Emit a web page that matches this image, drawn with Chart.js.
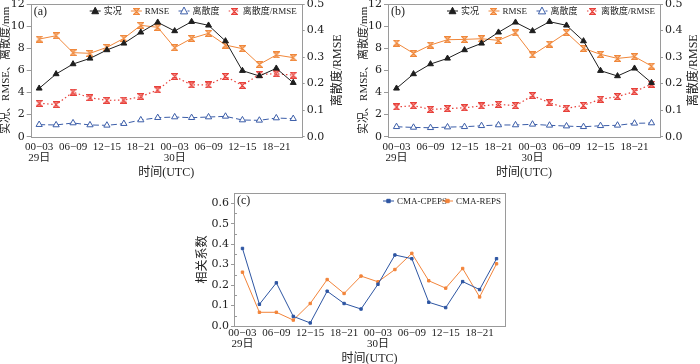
<!DOCTYPE html>
<html><head><meta charset="utf-8">
<script src="https://cdn.jsdelivr.net/npm/chart.js@4.4.1/dist/chart.umd.min.js"></script>
<style>
html,body{margin:0;padding:0;background:#fff;width:700px;height:364px;overflow:hidden;position:relative}
canvas{position:absolute;display:block}
</style></head><body>
<canvas id="ca" width="350" height="190" style="left:0;top:-10px;width:350px;height:190px"></canvas>
<canvas id="cb" width="350" height="190" style="left:350px;top:-10px;width:350px;height:190px"></canvas>
<canvas id="cc" width="340" height="184" style="left:180px;top:180px;width:340px;height:184px"></canvas>
<script>
// ---------- data ----------
const timeSlots = ['00−03','03−06','06−09','09−12','12−15','15−18','18−21','21−24',
                   '00−03','03−06','06−09','09−12','12−15','15−18','18−21','21−24'];
const dayLabels = ['29日','','','','','','','','30日','','','','','','',''];
const leftTicksMM = [0,2,4,6,8,10,12];
const rightTicksRatio = [0,0.1,0.2,0.3,0.4,0.5];
const corrTicks = [0,0.1,0.2,0.3,0.4,0.5,0.6];

const observed = [4.37,5.67,6.57,7.08,7.84,8.44,9.44,10.34,9.56,10.40,10.07,8.65,5.97,5.49,6.18,4.88];

const rmseA   = [8.83,9.13,7.60,7.54,8.08,8.89,10.07,9.89,8.05,8.89,9.35,8.29,7.96,6.54,7.39,7.15];
const spreadA = [1.09,1.06,1.24,1.06,1.03,1.18,1.51,1.72,1.78,1.72,1.78,1.84,1.51,1.48,1.69,1.63];
const ratioA  = [0.126,0.121,0.168,0.147,0.137,0.138,0.151,0.176,0.227,0.195,0.195,0.227,0.193,0.235,0.237,0.232];

const rmseB   = [8.47,7.54,8.29,8.77,8.80,8.86,8.71,9.38,7.39,8.38,9.41,7.99,7.45,7.08,7.24,6.39];
const spreadB = [0.90,0.84,0.81,0.87,0.90,0.99,1.06,1.06,1.12,1.03,0.96,0.90,0.99,1.03,1.21,1.24];
const ratioB  = [0.112,0.117,0.103,0.106,0.109,0.116,0.122,0.117,0.155,0.128,0.107,0.118,0.141,0.151,0.170,0.198];

const corrCPEPS = [0.379,0.106,0.211,0.047,0.015,0.170,0.110,0.083,0.204,0.347,0.329,0.116,0.090,0.217,0.178,0.329];
const corrREPS  = [0.263,0.067,0.067,0.029,0.110,0.227,0.159,0.244,0.216,0.276,0.355,0.221,0.185,0.281,0.142,0.304];

// ---------- styles ----------
const SERIF = '"Liberation Serif","Noto Sans CJK SC",serif';
const TICKY = '"DejaVu Serif","Noto Sans CJK SC",serif';
const C_BLACK='#1e1e1e', C_ORANGE='#f0873a', C_BLUE='#3b5da8', C_RED='#e8403a';
const C_CP='#2d55a2', C_RE='#f2843a';
const AXIS='#9a9a9a', TXT='#222';

function hourglass(stroke, fill){
  const c=document.createElement('canvas'); c.width=7; c.height=7;
  const g=c.getContext('2d');
  g.beginPath(); g.moveTo(0.6,0.6); g.lineTo(6.4,0.6); g.lineTo(0.6,6.4); g.lineTo(6.4,6.4); g.closePath();
  g.fillStyle=fill; g.fill();
  g.strokeStyle=stroke; g.lineWidth=1.2; g.stroke();
  return c;
}
const hgOrange = hourglass(C_ORANGE,'#f9c9a2');
const hgRed = hourglass(C_RED,'#f6b0aa');

function xTick(v,i){
  if(i%2!==0) return '';
  return dayLabels[i] ? [timeSlots[i], dayLabels[i]] : timeSlots[i];
}

// ---------- plugins ----------
const framePlugin = {
  id:'frame',
  beforeDatasetsDraw(chart){
    const {ctx, chartArea:a} = chart;
    ctx.save(); ctx.strokeStyle=AXIS; ctx.lineWidth=1;
    ctx.strokeRect(Math.round(a.left)+0.5, Math.round(a.top)+0.5, Math.round(a.right-a.left), Math.round(a.bottom-a.top));
    ctx.restore();
  }
};

function drawMarker(ctx, ds, x, y){
  const ps = ds.pointStyle;
  if (ps instanceof HTMLCanvasElement){ ctx.drawImage(ps, Math.round(x-ps.width/2), Math.round(y-ps.height/2)); return; }
  const r = ds.pointRadius;
  ctx.save();
  ctx.fillStyle = ds.pointBackgroundColor; ctx.strokeStyle = ds.pointBorderColor; ctx.lineWidth = ds.pointBorderWidth||1;
  ctx.beginPath();
  if (ps==='triangle'){
    ctx.moveTo(x, y-r*1.1); ctx.lineTo(x+r, y+r*0.8); ctx.lineTo(x-r, y+r*0.8); ctx.closePath();
  } else {
    ctx.rect(x-r, y-r, 2*r, 2*r);
  }
  ctx.fill(); ctx.stroke(); ctx.restore();
}

const annotPlugin = {
  id:'annot',
  afterDraw(chart, args, o){
    const {ctx, chartArea:a} = chart;
    ctx.save();
    ctx.fillStyle=TXT; ctx.font='12px '+SERIF; ctx.textBaseline='middle'; ctx.textAlign='left';
    ctx.fillText(o.tag, a.left+3, a.top+8);
    ctx.font='9px '+SERIF;
    const dss = chart.data.datasets;
    const lineW = 11, gapT = 3;
    const widths = dss.map(d=>ctx.measureText(d.label).width);
    const total = widths.reduce((s,w)=>s+w+lineW+gapT,0);
    const startX = a.left + o.legendStart, endX = a.right - o.legendEnd;
    const gap = dss.length>1 ? (endX-startX-total)/(dss.length-1) : 0;
    let x = startX; const y = a.top + o.legendY;
    dss.forEach((d,i)=>{
      ctx.save();
      ctx.strokeStyle=d.borderColor; ctx.lineWidth=d.borderWidth;
      ctx.setLineDash(d.borderDash||[]);
      ctx.beginPath(); ctx.moveTo(x,y); ctx.lineTo(x+lineW,y); ctx.stroke();
      ctx.restore();
      drawMarker(ctx, d, x+lineW/2, y);
      ctx.fillStyle=TXT; ctx.textAlign='left'; ctx.textBaseline='middle';
      ctx.fillText(d.label, x+lineW+gapT, y+0.5);
      x += lineW+gapT+widths[i]+gap;
    });
    if (o.rightTitle){
      ctx.font='12px '+SERIF; ctx.fillStyle=TXT;
      ctx.translate(o.rightTitleX, (a.top+a.bottom)/2);
      ctx.rotate(-Math.PI/2);
      ctx.textAlign='center'; ctx.textBaseline='middle';
      ctx.fillText(o.rightTitle, 0, 0);
    }
    ctx.restore();
  }
};

const minorPlugin = {
  id:'minor',
  afterDraw(chart, args, o){
    if(!o.on) return;
    const s = chart.scales.y, {ctx, chartArea:a} = chart;
    ctx.save(); ctx.strokeStyle=AXIS; ctx.lineWidth=1;
    for(let v=0.05; v<0.65; v+=0.1){
      const y=Math.round(s.getPixelForValue(v))+0.5;
      ctx.beginPath(); ctx.moveTo(a.left, y); ctx.lineTo(a.left+3, y); ctx.stroke();
    }
    ctx.restore();
  }
};

function xScale(h, tickPad, titlePadBottom){
  return {
    type:'category', offset:true,
    grid:{display:false, drawTicks:false}, border:{display:false},
    ticks:{autoSkip:false, maxRotation:0, minRotation:0, padding:tickPad, color:TXT,
           font:{family:SERIF, size:11, lineHeight:1.0}, callback:xTick},
    title:{display:true, text:'时间(UTC)', color:TXT, font:{family:SERIF, size:12, lineHeight:1.1}, padding:{top:0,bottom:titlePadBottom}},
    afterFit(s){ s.height=h; }
  };
}

function panelAB(id, rmse, spread, ratio, o){
  return new Chart(document.getElementById(id), {
    type:'line',
    data:{
      labels: timeSlots,
      datasets:[
        {label:'实况', data:observed, yAxisID:'y', borderColor:C_BLACK, borderWidth:1,
         pointStyle:'triangle', pointRadius:3.4, pointBackgroundColor:C_BLACK, pointBorderColor:C_BLACK, pointBorderWidth:1},
        {label:'RMSE', data:rmse, yAxisID:'y', borderColor:C_ORANGE, borderWidth:1,
         pointStyle:hgOrange, pointRadius:3.5, pointBackgroundColor:C_ORANGE, pointBorderColor:C_ORANGE},
        {label:'离散度', data:spread, yAxisID:'y', borderColor:C_BLUE, borderWidth:1, borderDash:[6,3],
         pointStyle:'triangle', pointRadius:3.6, pointBackgroundColor:'#fff', pointBorderColor:C_BLUE, pointBorderWidth:1},
        {label:'离散度/RMSE', data:ratio, yAxisID:'y1', borderColor:C_RED, borderWidth:1.2, borderDash:[1.5,2.5],
         pointStyle:hgRed, pointRadius:3.5, pointBackgroundColor:C_RED, pointBorderColor:C_RED}
      ]
    },
    options:{
      responsive:false, animation:false, devicePixelRatio:1,
      layout:{padding:{top:14,left:0,right:0,bottom:0}},
      plugins:{legend:{display:false}, tooltip:{enabled:false},
        annot:{tag:o.tag, legendStart:o.legendStart, legendEnd:5, legendY:7, rightTitle:'离散度/RMSE', rightTitleX:o.rightTitleX},
        minor:{on:false}},
      scales:{
        x: xScale(43.3, 5, 1),
        y:{position:'left', min:0, max:12,
           afterBuildTicks(s){ s.ticks = leftTicksMM.map(v=>({value:v})); },
           ticks:{color:TXT, padding:2, font:{family:TICKY, size:11}},
           grid:{display:true, drawOnChartArea:false, tickLength:4, color:AXIS}, border:{display:false},
           title:{display:true, text:'实况、RMSE、离散度/mm', color:TXT, font:{family:SERIF, size:11, lineHeight:1.1}, padding:{top:o.leftTitlePad,bottom:0}},
           afterFit(s){ s.width=o.leftW; }},
        y1:{position:'right', min:0, max:0.5,
           afterBuildTicks(s){ s.ticks = rightTicksRatio.map(v=>({value:v})); },
           ticks:{color:TXT, padding:2, font:{family:TICKY, size:11}, callback:v=>Number(v).toFixed(1)},
           grid:{display:true, drawOnChartArea:false, tickLength:3, color:AXIS}, border:{display:false},
           afterFit(s){ s.width=o.rightW; }}
      }
    },
    plugins:[framePlugin, annotPlugin, minorPlugin]
  });
}

panelAB('ca', rmseA, spreadA, ratioA, {tag:'(a)', leftW:30.7, rightW:48.3, leftTitlePad:0.5, legendStart:59, rightTitleX:338});
panelAB('cb', rmseB, spreadB, ratioB, {tag:'(b)', leftW:38, rightW:40, leftTitlePad:8, legendStart:59, rightTitleX:344});

new Chart(document.getElementById('cc'), {
  type:'line',
  data:{
    labels: timeSlots,
    datasets:[
      {label:'CMA-CPEPS', data:corrCPEPS, borderColor:C_CP, borderWidth:1,
       pointStyle:'rect', pointRadius:1.7, pointBackgroundColor:C_CP, pointBorderColor:C_CP, pointBorderWidth:1},
      {label:'CMA-REPS', data:corrREPS, borderColor:C_RE, borderWidth:1,
       pointStyle:'rect', pointRadius:1.7, pointBackgroundColor:C_RE, pointBorderColor:C_RE, pointBorderWidth:1}
    ]
  },
  options:{
    responsive:false, animation:false, devicePixelRatio:1,
    layout:{padding:{top:13,left:0,right:15,bottom:0}},
    plugins:{legend:{display:false}, tooltip:{enabled:false},
      annot:{tag:'(c)', legendStart:149, legendEnd:4, legendY:8, rightTitle:null},
      minor:{on:true}},
    scales:{
      x: xScale(38, 2, -1),
      y:{position:'left', min:0, max:0.65,
         afterBuildTicks(s){ s.ticks = corrTicks.map(v=>({value:v})); },
         ticks:{color:TXT, padding:2, font:{family:TICKY, size:11}, callback:v=>Number(v).toFixed(1)},
         grid:{display:true, drawOnChartArea:false, tickLength:3, color:AXIS}, border:{display:false},
         title:{display:true, text:'相关系数', color:TXT, font:{family:SERIF, size:12}, padding:{top:16,bottom:0}},
         afterFit(s){ s.width=54; }}
    }
  },
  plugins:[framePlugin, annotPlugin, minorPlugin]
});
</script>
</body></html>
